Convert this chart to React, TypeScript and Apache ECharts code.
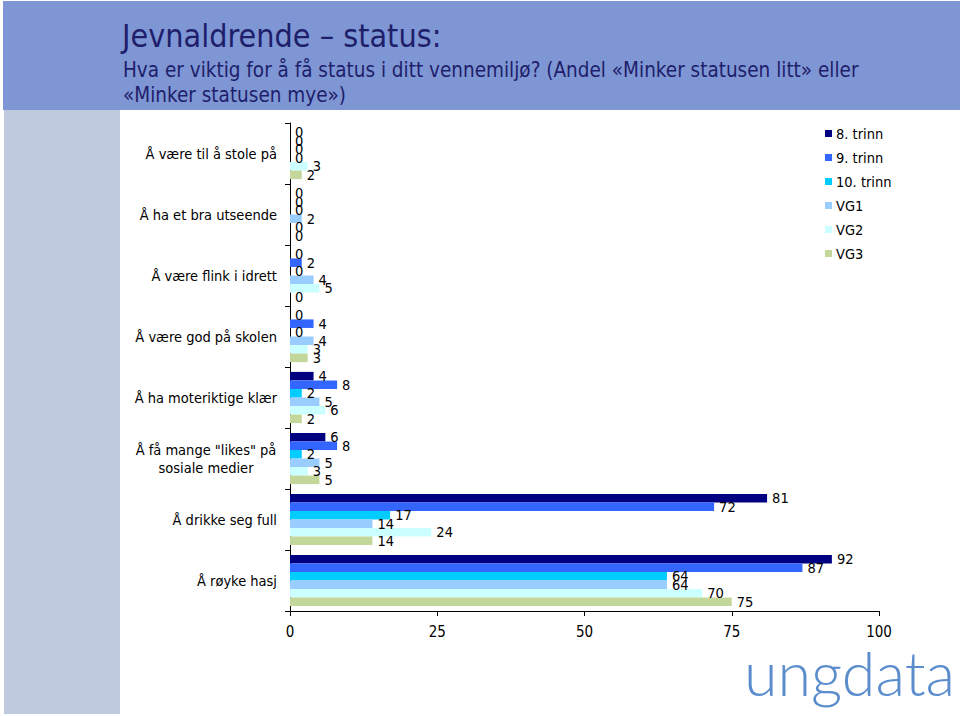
import React, { useEffect, useRef } from "react";
import * as echarts from "echarts";

const categories = [
  "Å være til å stole på",
  "Å ha et bra utseende",
  "Å være flink i idrett",
  "Å være god på skolen",
  "Å ha moteriktige klær",
  'Å få mange "likes" på\nsosiale medier',
  "Å drikke seg full",
  "Å røyke hasj",
];

const seriesNames = ["8. trinn", "9. trinn", "10. trinn", "VG1", "VG2", "VG3"];

const trinn8 = [0, 0, 0, 0, 4, 6, 81, 92];
const trinn9 = [0, 0, 2, 4, 8, 8, 72, 87];
const trinn10 = [0, 0, 0, 0, 2, 2, 17, 64];
const vg1 = [0, 2, 4, 4, 5, 5, 14, 64];
const vg2 = [3, 0, 5, 3, 6, 3, 24, 70];
const vg3 = [2, 0, 0, 3, 2, 5, 14, 75];

const xTicks = [0, 25, 50, 75, 100];

const colors = ["#000080", "#3366ff", "#00ccff", "#99ccff", "#ccffff", "#c4d79b"];

const FONT = "'DejaVu Sans Condensed', 'Liberation Sans Narrow', 'Liberation Sans', sans-serif";

export default function App() {
  const ref = useRef<HTMLDivElement>(null);
  useEffect(() => {
    if (!ref.current) return;
    const chart = echarts.init(ref.current, undefined, { renderer: "svg" });
    const values = [trinn8, trinn9, trinn10, vg1, vg2, vg3];
    chart.setOption({
      animation: false,
      backgroundColor: "#ffffff",
      textStyle: { fontFamily: FONT },
      graphic: [
        { type: "rect", left: 3, top: 1, shape: { width: 957, height: 109 }, style: { fill: "#7f96d4" }, z: -10 },
        { type: "rect", left: 4, top: 110, shape: { width: 116, height: 604 }, style: { fill: "#bfcadf" }, z: -10 },
        { type: "text", left: 122, top: 20, style: { text: "Jevnaldrende – status:", font: `32px ${FONT}`, fill: "#1e1e6b" } },
        {
          type: "text",
          left: 123,
          top: 57,
          style: {
            text: "Hva er viktig for å få status i ditt vennemiljø? (Andel «Minker statusen litt» eller\n«Minker statusen mye»)",
            font: `20.5px ${FONT}`,
            lineHeight: 25,
            fill: "#1e1e6b",
          },
        },
        { type: "text", left: 744, top: 642, style: { text: "ungdata", font: `300 61px Lato, 'Open Sans', sans-serif`, fill: "#5b8dcc" } },
      ],
      legend: {
        orient: "vertical",
        left: 820,
        top: 121,
        itemWidth: 7,
        itemHeight: 7,
        itemGap: 9,
        icon: "rect",
        data: seriesNames,
        textStyle: { fontSize: 14.5, color: "#000", fontFamily: FONT, padding: [0, 0, 0, -1] },
      },
      grid: { left: 290, right: 81, top: 123, bottom: 105 },
      xAxis: {
        type: "value",
        min: 0,
        max: 100,
        interval: 25,
        splitLine: { show: false },
        axisLine: { show: true, lineStyle: { color: "#000" } },
        axisTick: { show: true, length: 5, lineStyle: { color: "#000" } },
        axisLabel: {
          fontSize: 15,
          color: "#000",
          margin: 13,
          fontFamily: FONT,
          formatter: (v: number) => (xTicks.includes(v) ? String(v) : ""),
        },
      },
      yAxis: {
        type: "category",
        inverse: true,
        data: categories,
        axisLine: { show: true, lineStyle: { color: "#000" } },
        axisTick: { show: true, length: 5, lineStyle: { color: "#000" } },
        axisLabel: {
          fontSize: 14.5,
          color: "#000",
          margin: 13,
          fontFamily: FONT,
          formatter: (v: string) =>
            v.includes("\n")
              ? v
                  .split("\n")
                  .map((s) => `{c|${s}}`)
                  .join("\n")
              : v,
          rich: { c: { width: 142, align: "center", fontSize: 14.5, fontFamily: FONT, lineHeight: 18 } },
        },
      },
      series: seriesNames.map((name, i) => ({
        name,
        type: "bar",
        data: values[i],
        barGap: "0%",
        barCategoryGap: "16%",
        itemStyle: { color: colors[i] },
        label: { show: true, position: "right", distance: 5, fontSize: 14.5, color: "#000", fontFamily: FONT },
      })),
    });
    return () => chart.dispose();
  }, []);
  return <div ref={ref} style={{ position: "fixed", left: 0, top: 0, width: 960, height: 716 }} />;
}
